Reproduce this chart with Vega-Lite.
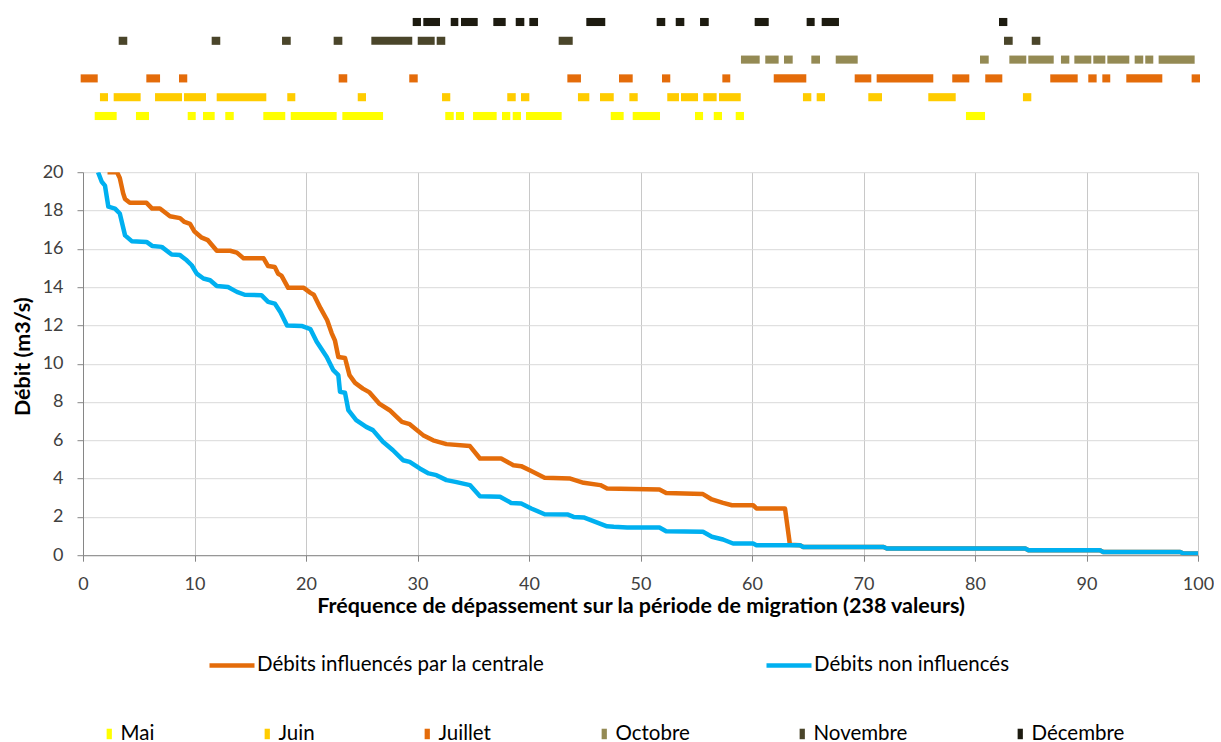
{
  "$schema": "https://vega.github.io/schema/vega-lite/v6.json",
  "background": "white",
  "padding": {"left": 12, "top": 12.6, "right": 0, "bottom": 0},
  "bounds": "flush",
  "config": {
    "font": "Lato",
    "view": {"stroke": null},
    "axis": {"labelFont": "Lato", "titleFont": "Lato", "labelColor": "#404040", "titleColor": "#000000"},
    "legend": {"labelFont": "Lato", "labelColor": "#000000", "padding": 0, "labelLimit": 0}
  },
  "datasets": {
    "mois": [
      {"mois": "Décembre", "x0": 29.57, "x1": 30.31},
      {"mois": "Décembre", "x0": 30.52, "x1": 32.02},
      {"mois": "Décembre", "x0": 32.98, "x1": 33.66},
      {"mois": "Décembre", "x0": 33.9, "x1": 35.4},
      {"mois": "Décembre", "x0": 36.8, "x1": 37.91},
      {"mois": "Décembre", "x0": 38.81, "x1": 39.58},
      {"mois": "Décembre", "x0": 40.03, "x1": 40.81},
      {"mois": "Décembre", "x0": 45.14, "x1": 46.84},
      {"mois": "Décembre", "x0": 51.45, "x1": 52.22},
      {"mois": "Décembre", "x0": 53.16, "x1": 53.93},
      {"mois": "Décembre", "x0": 55.34, "x1": 56.12},
      {"mois": "Décembre", "x0": 60.24, "x1": 61.5},
      {"mois": "Décembre", "x0": 64.9, "x1": 65.62},
      {"mois": "Décembre", "x0": 66.25, "x1": 67.8},
      {"mois": "Décembre", "x0": 82.15, "x1": 82.9},
      {"mois": "Novembre", "x0": 3.2, "x1": 3.97},
      {"mois": "Novembre", "x0": 11.54, "x1": 12.31},
      {"mois": "Novembre", "x0": 17.85, "x1": 18.63},
      {"mois": "Novembre", "x0": 22.48, "x1": 23.26},
      {"mois": "Novembre", "x0": 25.86, "x1": 29.53},
      {"mois": "Novembre", "x0": 30.02, "x1": 31.54},
      {"mois": "Novembre", "x0": 31.72, "x1": 32.49},
      {"mois": "Novembre", "x0": 42.66, "x1": 43.92},
      {"mois": "Novembre", "x0": 82.6, "x1": 83.38},
      {"mois": "Novembre", "x0": 85.09, "x1": 85.86},
      {"mois": "Octobre", "x0": 59.01, "x1": 60.69},
      {"mois": "Octobre", "x0": 61.19, "x1": 62.39},
      {"mois": "Octobre", "x0": 62.87, "x1": 63.65},
      {"mois": "Octobre", "x0": 65.32, "x1": 66.1},
      {"mois": "Octobre", "x0": 67.51, "x1": 69.48},
      {"mois": "Octobre", "x0": 80.45, "x1": 81.23},
      {"mois": "Octobre", "x0": 83.08, "x1": 84.6},
      {"mois": "Octobre", "x0": 84.78, "x1": 87.06},
      {"mois": "Octobre", "x0": 87.71, "x1": 88.46},
      {"mois": "Octobre", "x0": 88.91, "x1": 90.43},
      {"mois": "Octobre", "x0": 90.61, "x1": 91.69},
      {"mois": "Octobre", "x0": 91.87, "x1": 93.84},
      {"mois": "Octobre", "x0": 94.32, "x1": 95.09},
      {"mois": "Octobre", "x0": 95.27, "x1": 95.99},
      {"mois": "Octobre", "x0": 96.47, "x1": 99.7},
      {"mois": "Juillet", "x0": -0.21, "x1": 1.32},
      {"mois": "Juillet", "x0": 5.68, "x1": 6.91},
      {"mois": "Juillet", "x0": 8.61, "x1": 9.35},
      {"mois": "Juillet", "x0": 22.93, "x1": 23.7},
      {"mois": "Juillet", "x0": 29.26, "x1": 30.02},
      {"mois": "Juillet", "x0": 43.44, "x1": 44.66},
      {"mois": "Juillet", "x0": 48.07, "x1": 49.3},
      {"mois": "Juillet", "x0": 51.93, "x1": 52.67},
      {"mois": "Juillet", "x0": 57.34, "x1": 58.05},
      {"mois": "Juillet", "x0": 61.95, "x1": 64.87},
      {"mois": "Juillet", "x0": 69.21, "x1": 70.7},
      {"mois": "Juillet", "x0": 71.18, "x1": 76.26},
      {"mois": "Juillet", "x0": 77.96, "x1": 79.49},
      {"mois": "Juillet", "x0": 80.92, "x1": 82.45},
      {"mois": "Juillet", "x0": 86.75, "x1": 89.21},
      {"mois": "Juillet", "x0": 90.16, "x1": 90.91},
      {"mois": "Juillet", "x0": 91.42, "x1": 92.13},
      {"mois": "Juillet", "x0": 93.57, "x1": 96.8},
      {"mois": "Juillet", "x0": 99.43, "x1": 100.18},
      {"mois": "Juin", "x0": 1.52, "x1": 2.24},
      {"mois": "Juin", "x0": 2.75, "x1": 5.17},
      {"mois": "Juin", "x0": 6.46, "x1": 8.88},
      {"mois": "Juin", "x0": 9.06, "x1": 11.03},
      {"mois": "Juin", "x0": 11.99, "x1": 16.44},
      {"mois": "Juin", "x0": 18.32, "x1": 19.04},
      {"mois": "Juin", "x0": 24.64, "x1": 25.38},
      {"mois": "Juin", "x0": 32.2, "x1": 32.94},
      {"mois": "Juin", "x0": 38.05, "x1": 38.81},
      {"mois": "Juin", "x0": 39.28, "x1": 40.03},
      {"mois": "Juin", "x0": 44.39, "x1": 45.41},
      {"mois": "Juin", "x0": 46.37, "x1": 47.6},
      {"mois": "Juin", "x0": 49.0, "x1": 49.75},
      {"mois": "Juin", "x0": 52.4, "x1": 53.45},
      {"mois": "Juin", "x0": 53.63, "x1": 55.16},
      {"mois": "Juin", "x0": 55.63, "x1": 56.83},
      {"mois": "Juin", "x0": 57.04, "x1": 58.99},
      {"mois": "Juin", "x0": 64.57, "x1": 65.32},
      {"mois": "Juin", "x0": 65.8, "x1": 66.55},
      {"mois": "Juin", "x0": 70.43, "x1": 71.66},
      {"mois": "Juin", "x0": 75.81, "x1": 78.27},
      {"mois": "Juin", "x0": 84.3, "x1": 85.05},
      {"mois": "Mai", "x0": 1.05, "x1": 3.02},
      {"mois": "Mai", "x0": 4.75, "x1": 5.92},
      {"mois": "Mai", "x0": 9.39, "x1": 10.11},
      {"mois": "Mai", "x0": 10.76, "x1": 11.81},
      {"mois": "Mai", "x0": 12.76, "x1": 13.52},
      {"mois": "Mai", "x0": 16.17, "x1": 18.14},
      {"mois": "Mai", "x0": 18.63, "x1": 22.75},
      {"mois": "Mai", "x0": 23.26, "x1": 26.91},
      {"mois": "Mai", "x0": 32.49, "x1": 33.25},
      {"mois": "Mai", "x0": 33.45, "x1": 34.17},
      {"mois": "Mai", "x0": 34.98, "x1": 37.1},
      {"mois": "Mai", "x0": 37.58, "x1": 38.32},
      {"mois": "Mai", "x0": 38.54, "x1": 39.28},
      {"mois": "Mai", "x0": 39.73, "x1": 42.93},
      {"mois": "Mai", "x0": 47.33, "x1": 48.49},
      {"mois": "Mai", "x0": 49.3, "x1": 51.75},
      {"mois": "Mai", "x0": 54.89, "x1": 55.61},
      {"mois": "Mai", "x0": 56.57, "x1": 57.31},
      {"mois": "Mai", "x0": 58.54, "x1": 59.28},
      {"mois": "Mai", "x0": 79.19, "x1": 80.9}
    ],
    "courbes": [
      {"serie": "Débits influencés par la centrale", "f": 2.2, "q": 20},
      {"serie": "Débits influencés par la centrale", "f": 3.05, "q": 20},
      {"serie": "Débits influencés par la centrale", "f": 3.3, "q": 19.7},
      {"serie": "Débits influencés par la centrale", "f": 3.6, "q": 18.9},
      {"serie": "Débits influencés par la centrale", "f": 3.77, "q": 18.6},
      {"serie": "Débits influencés par la centrale", "f": 4.2, "q": 18.4},
      {"serie": "Débits influencés par la centrale", "f": 5.7, "q": 18.4},
      {"serie": "Débits influencés par la centrale", "f": 6.2, "q": 18.1},
      {"serie": "Débits influencés par la centrale", "f": 6.9, "q": 18.1},
      {"serie": "Débits influencés par la centrale", "f": 7.8, "q": 17.7},
      {"serie": "Débits influencés par la centrale", "f": 8.7, "q": 17.6},
      {"serie": "Débits influencés par la centrale", "f": 9.1, "q": 17.4},
      {"serie": "Débits influencés par la centrale", "f": 9.6, "q": 17.3},
      {"serie": "Débits influencés par la centrale", "f": 10.0, "q": 16.9},
      {"serie": "Débits influencés par la centrale", "f": 10.6, "q": 16.6},
      {"serie": "Débits influencés par la centrale", "f": 11.2, "q": 16.45},
      {"serie": "Débits influencés par la centrale", "f": 12.0, "q": 15.9},
      {"serie": "Débits influencés par la centrale", "f": 13.2, "q": 15.9},
      {"serie": "Débits influencés par la centrale", "f": 13.8, "q": 15.8},
      {"serie": "Débits influencés par la centrale", "f": 14.4, "q": 15.5},
      {"serie": "Débits influencés par la centrale", "f": 16.2, "q": 15.5},
      {"serie": "Débits influencés par la centrale", "f": 16.6, "q": 15.1},
      {"serie": "Débits influencés par la centrale", "f": 17.2, "q": 15.05},
      {"serie": "Débits influencés par la centrale", "f": 17.5, "q": 14.7},
      {"serie": "Débits influencés par la centrale", "f": 17.8, "q": 14.6},
      {"serie": "Débits influencés par la centrale", "f": 18.4, "q": 13.96},
      {"serie": "Débits influencés par la centrale", "f": 19.8, "q": 13.96},
      {"serie": "Débits influencés par la centrale", "f": 20.4, "q": 13.7},
      {"serie": "Débits influencés par la centrale", "f": 20.7, "q": 13.6},
      {"serie": "Débits influencés par la centrale", "f": 21.3, "q": 12.9},
      {"serie": "Débits influencés par la centrale", "f": 21.9, "q": 12.27},
      {"serie": "Débits influencés par la centrale", "f": 22.3, "q": 11.6},
      {"serie": "Débits influencés par la centrale", "f": 22.6, "q": 11.2},
      {"serie": "Débits influencés par la centrale", "f": 22.9, "q": 10.35},
      {"serie": "Débits influencés par la centrale", "f": 23.5, "q": 10.3},
      {"serie": "Débits influencés par la centrale", "f": 23.9, "q": 9.4},
      {"serie": "Débits influencés par la centrale", "f": 24.4, "q": 9.0},
      {"serie": "Débits influencés par la centrale", "f": 25.1, "q": 8.7},
      {"serie": "Débits influencés par la centrale", "f": 25.7, "q": 8.5},
      {"serie": "Débits influencés par la centrale", "f": 26.6, "q": 7.9},
      {"serie": "Débits influencés par la centrale", "f": 27.5, "q": 7.57},
      {"serie": "Débits influencés par la centrale", "f": 28.6, "q": 6.96},
      {"serie": "Débits influencés par la centrale", "f": 29.3, "q": 6.84},
      {"serie": "Débits influencés par la centrale", "f": 30.5, "q": 6.27},
      {"serie": "Débits influencés par la centrale", "f": 31.4, "q": 6.0},
      {"serie": "Débits influencés par la centrale", "f": 32.6, "q": 5.8},
      {"serie": "Débits influencés par la centrale", "f": 34.7, "q": 5.7},
      {"serie": "Débits influencés par la centrale", "f": 35.6, "q": 5.05},
      {"serie": "Débits influencés par la centrale", "f": 37.5, "q": 5.05},
      {"serie": "Débits influencés par la centrale", "f": 38.6, "q": 4.7},
      {"serie": "Débits influencés par la centrale", "f": 39.3, "q": 4.65},
      {"serie": "Débits influencés par la centrale", "f": 40.2, "q": 4.4},
      {"serie": "Débits influencés par la centrale", "f": 41.4, "q": 4.05},
      {"serie": "Débits influencés par la centrale", "f": 43.7, "q": 4.0},
      {"serie": "Débits influencés par la centrale", "f": 44.9, "q": 3.78},
      {"serie": "Débits influencés par la centrale", "f": 46.4, "q": 3.66},
      {"serie": "Débits influencés par la centrale", "f": 47.0, "q": 3.48},
      {"serie": "Débits influencés par la centrale", "f": 51.7, "q": 3.43},
      {"serie": "Débits influencés par la centrale", "f": 52.3, "q": 3.25},
      {"serie": "Débits influencés par la centrale", "f": 55.6, "q": 3.19},
      {"serie": "Débits influencés par la centrale", "f": 56.4, "q": 2.91},
      {"serie": "Débits influencés par la centrale", "f": 57.4, "q": 2.73},
      {"serie": "Débits influencés par la centrale", "f": 58.2, "q": 2.61},
      {"serie": "Débits influencés par la centrale", "f": 60.1, "q": 2.61},
      {"serie": "Débits influencés par la centrale", "f": 60.4, "q": 2.44},
      {"serie": "Débits influencés par la centrale", "f": 62.96, "q": 2.44},
      {"serie": "Débits influencés par la centrale", "f": 63.4, "q": 0.55},
      {"serie": "Débits influencés par la centrale", "f": 64.3, "q": 0.52},
      {"serie": "Débits influencés par la centrale", "f": 64.6, "q": 0.43},
      {"serie": "Débits influencés par la centrale", "f": 71.8, "q": 0.43},
      {"serie": "Débits influencés par la centrale", "f": 72.1, "q": 0.35},
      {"serie": "Débits influencés par la centrale", "f": 84.5, "q": 0.35},
      {"serie": "Débits influencés par la centrale", "f": 84.8, "q": 0.26},
      {"serie": "Débits influencés par la centrale", "f": 91.2, "q": 0.26},
      {"serie": "Débits influencés par la centrale", "f": 91.5, "q": 0.17},
      {"serie": "Débits influencés par la centrale", "f": 98.4, "q": 0.17},
      {"serie": "Débits influencés par la centrale", "f": 98.7, "q": 0.09},
      {"serie": "Débits influencés par la centrale", "f": 100, "q": 0.09},
      {"serie": "Débits non influencés", "f": 1.35, "q": 20},
      {"serie": "Débits non influencés", "f": 1.68, "q": 19.5},
      {"serie": "Débits non influencés", "f": 1.97, "q": 19.3},
      {"serie": "Débits non influencés", "f": 2.27, "q": 18.2},
      {"serie": "Débits non influencés", "f": 2.87, "q": 18.1},
      {"serie": "Débits non influencés", "f": 3.3, "q": 17.84},
      {"serie": "Débits non influencés", "f": 3.77, "q": 16.7},
      {"serie": "Débits non influencés", "f": 4.37, "q": 16.4},
      {"serie": "Débits non influencés", "f": 5.7, "q": 16.36},
      {"serie": "Débits non influencés", "f": 6.2, "q": 16.15},
      {"serie": "Débits non influencés", "f": 7.06, "q": 16.1},
      {"serie": "Débits non influencés", "f": 7.95, "q": 15.7},
      {"serie": "Débits non influencés", "f": 8.7, "q": 15.67},
      {"serie": "Débits non influencés", "f": 9.3, "q": 15.4},
      {"serie": "Débits non influencés", "f": 9.75, "q": 15.14},
      {"serie": "Débits non influencés", "f": 10.2, "q": 14.7},
      {"serie": "Débits non influencés", "f": 10.8, "q": 14.45},
      {"serie": "Débits non influencés", "f": 11.4, "q": 14.36},
      {"serie": "Débits non influencés", "f": 12.0, "q": 14.06},
      {"serie": "Débits non influencés", "f": 13.0, "q": 14.0},
      {"serie": "Débits non influencés", "f": 13.8, "q": 13.75},
      {"serie": "Débits non influencés", "f": 14.5, "q": 13.6},
      {"serie": "Débits non influencés", "f": 16.0, "q": 13.58},
      {"serie": "Débits non influencés", "f": 16.6, "q": 13.23},
      {"serie": "Débits non influencés", "f": 17.2, "q": 13.14},
      {"serie": "Débits non influencés", "f": 17.7, "q": 12.7},
      {"serie": "Débits non influencés", "f": 18.3, "q": 12.0},
      {"serie": "Débits non influencés", "f": 19.6, "q": 11.97},
      {"serie": "Débits non influencés", "f": 20.4, "q": 11.8},
      {"serie": "Débits non influencés", "f": 20.96, "q": 11.14},
      {"serie": "Débits non influencés", "f": 21.86, "q": 10.35},
      {"serie": "Débits non influencés", "f": 22.45, "q": 9.66},
      {"serie": "Débits non influencés", "f": 22.9, "q": 9.4},
      {"serie": "Débits non influencés", "f": 23.05, "q": 8.53},
      {"serie": "Débits non influencés", "f": 23.5, "q": 8.48},
      {"serie": "Débits non influencés", "f": 23.8, "q": 7.57},
      {"serie": "Débits non influencés", "f": 24.5, "q": 7.05},
      {"serie": "Débits non influencés", "f": 25.4, "q": 6.7},
      {"serie": "Débits non influencés", "f": 26.0, "q": 6.53},
      {"serie": "Débits non influencés", "f": 26.9, "q": 5.92},
      {"serie": "Débits non influencés", "f": 27.8, "q": 5.48},
      {"serie": "Débits non influencés", "f": 28.7, "q": 4.96},
      {"serie": "Débits non influencés", "f": 29.3, "q": 4.87},
      {"serie": "Débits non influencés", "f": 30.2, "q": 4.53},
      {"serie": "Débits non influencés", "f": 31.0, "q": 4.27},
      {"serie": "Débits non influencés", "f": 31.7, "q": 4.18},
      {"serie": "Débits non influencés", "f": 32.6, "q": 3.92},
      {"serie": "Débits non influencés", "f": 33.4, "q": 3.83},
      {"serie": "Débits non influencés", "f": 34.7, "q": 3.66},
      {"serie": "Débits non influencés", "f": 35.6, "q": 3.08},
      {"serie": "Débits non influencés", "f": 37.4, "q": 3.05},
      {"serie": "Débits non influencés", "f": 38.4, "q": 2.73},
      {"serie": "Débits non influencés", "f": 39.3, "q": 2.7},
      {"serie": "Débits non influencés", "f": 40.2, "q": 2.44},
      {"serie": "Débits non influencés", "f": 41.4, "q": 2.14},
      {"serie": "Débits non influencés", "f": 43.5, "q": 2.12},
      {"serie": "Débits non influencés", "f": 44.0, "q": 2.0},
      {"serie": "Débits non influencés", "f": 44.9, "q": 1.97},
      {"serie": "Débits non influencés", "f": 47.0, "q": 1.51},
      {"serie": "Débits non influencés", "f": 47.6, "q": 1.48},
      {"serie": "Débits non influencés", "f": 48.8, "q": 1.45},
      {"serie": "Débits non influencés", "f": 51.7, "q": 1.45},
      {"serie": "Débits non influencés", "f": 52.3, "q": 1.25},
      {"serie": "Débits non influencés", "f": 55.6, "q": 1.22},
      {"serie": "Débits non influencés", "f": 56.4, "q": 0.96},
      {"serie": "Débits non influencés", "f": 57.4, "q": 0.82},
      {"serie": "Débits non influencés", "f": 58.3, "q": 0.61},
      {"serie": "Débits non influencés", "f": 60.1, "q": 0.61},
      {"serie": "Débits non influencés", "f": 60.4, "q": 0.52},
      {"serie": "Débits non influencés", "f": 64.3, "q": 0.52},
      {"serie": "Débits non influencés", "f": 64.6, "q": 0.43},
      {"serie": "Débits non influencés", "f": 71.8, "q": 0.43},
      {"serie": "Débits non influencés", "f": 72.1, "q": 0.35},
      {"serie": "Débits non influencés", "f": 84.5, "q": 0.35},
      {"serie": "Débits non influencés", "f": 84.8, "q": 0.26},
      {"serie": "Débits non influencés", "f": 91.2, "q": 0.26},
      {"serie": "Débits non influencés", "f": 91.5, "q": 0.17},
      {"serie": "Débits non influencés", "f": 98.4, "q": 0.17},
      {"serie": "Débits non influencés", "f": 98.7, "q": 0.09},
      {"serie": "Débits non influencés", "f": 100, "q": 0.09}
    ]
  },
  "vconcat": [
    {
      "width": 1115,
      "height": 112.8,
      "data": {"name": "mois"},
      "mark": {"type": "bar"},
      "encoding": {
        "x": {"field": "x0", "type": "quantitative", "axis": null, "scale": {"domain": [0, 100], "nice": false, "zero": false}},
        "x2": {"field": "x1"},
        "y": {"field": "mois", "type": "nominal", "axis": null, "sort": ["Décembre", "Novembre", "Octobre", "Juillet", "Juin", "Mai"], "scale": {"paddingInner": 0.57, "paddingOuter": 0.285}},
        "color": {
          "field": "mois", "type": "nominal",
          "scale": {"domain": ["Mai", "Juin", "Juillet", "Octobre", "Novembre", "Décembre"], "range": ["#FFFF00", "#FFCC00", "#E46C0A", "#948A54", "#4A452A", "#1D1B10"]},
          "legend": {"orient": "none", "legendX": 16, "legendY": 711, "direction": "horizontal", "title": null, "symbolType": "M-0.5,-1H0.5V1H-0.5Z", "symbolSize": 110, "symbolStrokeWidth": 0, "labelFontSize": 20.5, "labelOffset": 1, "columnPadding": 102}
        }
      }
    },
    {
      "width": 1115,
      "height": 383,
      "data": {"name": "courbes"},
      "mark": {"type": "line", "strokeWidth": 4.5, "strokeJoin": "round", "clip": true},
      "encoding": {
        "x": {"field": "f", "type": "quantitative", "scale": {"domain": [0, 100], "nice": false, "zero": false},
          "axis": {"title": "Fréquence de dépassement sur la période de migration (238 valeurs)", "values": [0, 10, 20, 30, 40, 50, 60, 70, 80, 90, 100], "gridColor": "#C8C8C8", "domainColor": "#868686", "tickColor": "#868686", "tickSize": 6, "labelFontSize": 18, "labelPadding": 14, "titleFontSize": 21.5, "titleFontWeight": "bold", "titlePadding": 2, "labelFlush": false}},
        "y": {"field": "q", "type": "quantitative", "scale": {"domain": [0, 20], "nice": false},
          "axis": {"title": "Débit (m3/s)", "values": [0, 2, 4, 6, 8, 10, 12, 14, 16, 18, 20], "gridColor": "#D9D9D9", "domainColor": "#868686", "tickColor": "#868686", "tickSize": 6, "labelFontSize": 18, "labelPadding": 14, "titleFontSize": 21.5, "titleFontWeight": "bold", "titlePadding": 8, "titleY": 184}},
        "color": {
          "field": "serie", "type": "nominal",
          "scale": {"domain": ["Débits influencés par la centrale", "Débits non influencés"], "range": ["#E46C0A", "#00B0F0"]},
          "legend": {"orient": "none", "legendX": 124, "legendY": 468, "direction": "horizontal", "title": null, "symbolType": "stroke", "symbolSize": 2025, "symbolStrokeWidth": 4.5, "labelFontSize": 20.5, "labelOffset": 0, "columnPadding": 212}
        }
      }
    }
  ],
  "spacing": 46.6,
  "resolve": {"scale": {"color": "independent", "x": "independent"}, "legend": {"color": "independent"}}
}
